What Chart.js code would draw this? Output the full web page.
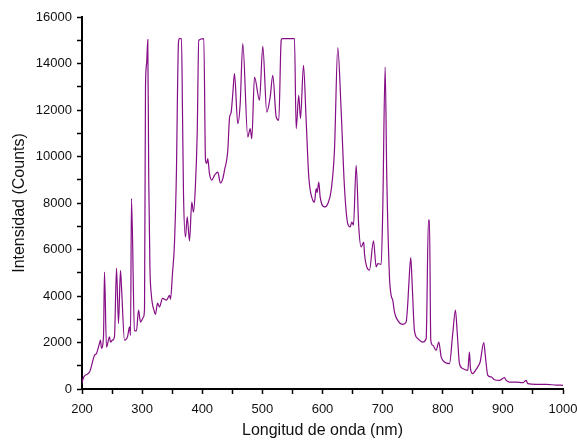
<!DOCTYPE html>
<html>
<head>
<meta charset="utf-8">
<script src="https://cdn.jsdelivr.net/npm/chart.js@4"></script>
<style>
  html, body { margin: 0; padding: 0; background: #fff; }
  #espectro { display: block; }
</style>
</head>
<body>
<canvas id="espectro" width="577" height="440"></canvas>
<script>
// espectro de emision: longitud de onda (nm) vs intensidad (counts)
const longitudOnda = [
  200, 202.5, 212.5, 220.8, 224.1, 229.1, 230.8, 232.4, 235.8, 237.4,
  240.7, 245.7, 247.4, 250.7, 254.0, 257.4, 260.7, 264.0, 265.7, 270.7,
  275.7, 279.0, 280.7, 282.3, 287.3, 290.6, 294.0, 297.3, 302.3, 304.0,
  305.6, 307.5, 309.4, 311.0, 313.0, 315.1, 320.6, 322.2, 325.6, 328.9,
  333.9, 340.5, 345.5, 347.2, 350.5, 353.8, 357.2, 358.8, 360.5, 362.1,
  365.5, 367.1, 368.8, 372.1, 375.0, 378.8, 382.6, 385.4, 388.3, 391.6,
  394.2, 402.6, 405.4, 407.5, 409.2, 412.0, 415.9, 420.3, 425.8, 430.3,
  434.2, 437.0, 442.5, 445.3, 448.1, 450.8, 453.6, 459.1, 463.1, 467.4,
  475.7, 479.7, 482.4, 486.9, 495.2, 500.7, 507.3, 513.0, 517.3, 523.0,
  527.3, 531.3, 533.4, 553.4, 556.2, 560.5, 563.4, 568.4, 572.8, 577.2,
  583.8, 586.6, 589.5, 591.1, 593.8, 596.1, 603.3, 608.8, 614.4, 619.9,
  625.4, 631.0, 636.5, 642.0, 646.0, 648.7, 651.5, 656.0, 660.3, 664.3,
  668.6, 669.8, 673.6, 678.1, 684.8, 689.3, 691.9, 697.6, 700.2, 704.2,
  706.9, 711.4, 714.2, 716.9, 719.7, 725.1, 733.5, 739.1, 741.8, 743.5,
  746.8, 749.1, 752.9, 758.4, 766.8, 772.4, 776.2, 777.9, 780.1, 783.4,
  789.0, 793.4, 797.4, 802.8, 811.2, 816.6, 821.1, 824.0, 827.8, 833.3,
  841.6, 844.4, 846.1, 849.9, 854.4, 858.2, 862.2, 868.2, 871.0, 874.9,
  880.5, 886.0, 894.3, 902.6, 905.5, 911.0, 922.1, 933.1, 938.7, 941.4,
  955.3, 972.0, 988.6, 1000
];
const intensidad = [
  250, 500, 730, 1450, 1530, 1960, 2100, 1750, 2300, 5030,
  1800, 2240, 2020, 2100, 2240, 5190, 2820, 5100, 4390, 2100,
  2240, 2670, 2310, 8190, 2520, 2500, 3390, 2880, 3100, 3500,
  12990, 14000, 15030, 9000, 5200, 4110, 3310, 3210, 3690, 3530,
  3900, 3820, 4030, 3860, 4980, 6270, 9550, 12700, 14930, 15070,
  15070, 11990, 8420, 6540, 7400, 6370, 8040, 7610, 8550, 10980,
  15000, 15070, 9840, 9700, 9910, 9260, 8980, 9190, 9330, 8860,
  9050, 9410, 10270, 11650, 11910, 12700, 13570, 11410, 12270, 14860,
  10840, 11200, 10770, 13420, 12420, 14740, 11910, 12560, 13490, 11700,
  11560, 15000, 15070, 15070, 11200, 12630, 11630, 13920, 11560, 9120,
  8120, 8040, 8620, 8450, 8900, 8260, 7830, 7970, 8550, 10270,
  14680, 11990, 8690, 7110, 6970, 7180, 7050, 9620, 6970, 6110,
  6320, 5820, 5250, 5110, 6370, 5250, 5390, 5360, 7690, 13850,
  9120, 4820, 4030, 3810, 3310, 2950, 2780, 2880, 3670, 4460,
  5650, 4530, 2520, 2170, 2020, 2170, 7260, 7260, 2100, 1880,
  1660, 2020, 1380, 1160, 1090, 2380, 3390, 2450, 1090, 880,
  800, 1590, 880, 660, 800, 950, 1160, 2000, 1380, 590,
  520, 400, 370, 490, 370, 300, 300, 270, 370, 230,
  200, 200, 170, 160
];

const ticksX = [200, 300, 400, 500, 600, 700, 800, 900, 1000];
const ticksY = [0, 2000, 4000, 6000, 8000, 10000, 12000, 14000, 16000];

const puntos = longitudOnda.map((x, i) => ({ x: x, y: intensidad[i] }));

const fuente = "'Liberation Sans', Arial, sans-serif";
const ctx = document.getElementById("espectro");

new Chart(ctx, {
  type: "line",
  data: {
    datasets: [{
      data: puntos,
      borderColor: "#850d85",
      borderWidth: 1.2,
      pointRadius: 0,
      cubicInterpolationMode: "monotone",
      fill: false
    }]
  },
  options: {
    responsive: false,
    animation: false,
    layout: { padding: { top: 17, right: 0, left: 0, bottom: 0 } },
    plugins: { legend: { display: false }, tooltip: { enabled: false } },
    scales: {
      x: {
        type: "linear",
        min: 200,
        max: 1000,
        ticks: {
          stepSize: 50,
          autoSkip: false,
          maxRotation: 0,
          padding: 8,
          color: "#111",
          font: { family: fuente, size: 13 },
          callback: (v) => ticksX.includes(v) ? String(v) : ""
        },
        grid: {
          display: true,
          drawOnChartArea: false,
          drawTicks: true,
          tickLength: 5,
          tickWidth: 1.5,
          tickColor: "#000"
        },
        border: { display: true, color: "#000", width: 2 },
        title: {
          display: true,
          text: "Longitud de onda (nm)",
          color: "#111",
          font: { family: fuente, size: 16 },
          padding: { top: 4, bottom: 0 }
        },
        afterFit: (s) => {
          s.height = 51;
          s.paddingLeft = 0;
          s.paddingRight = 14;
        }
      },
      y: {
        min: 0,
        max: 16000,
        ticks: {
          stepSize: 1000,
          autoSkip: false,
          padding: 5,
          color: "#111",
          font: { family: fuente, size: 13 },
          callback: (v) => ticksY.includes(v) ? String(v) : ""
        },
        grid: {
          display: true,
          drawOnChartArea: false,
          drawTicks: true,
          tickLength: 5,
          tickWidth: 1.5,
          tickColor: "#000"
        },
        border: { display: true, color: "#000", width: 2 },
        title: {
          display: true,
          text: "Intensidad (Counts)",
          color: "#111",
          font: { family: fuente, size: 16 },
          padding: { top: 10, bottom: 4 }
        },
        afterFit: (s) => {
          s.width = 82;
          s.paddingTop = 0;
          s.paddingBottom = 0;
        }
      }
    }
  }
});
</script>
</body>
</html>
